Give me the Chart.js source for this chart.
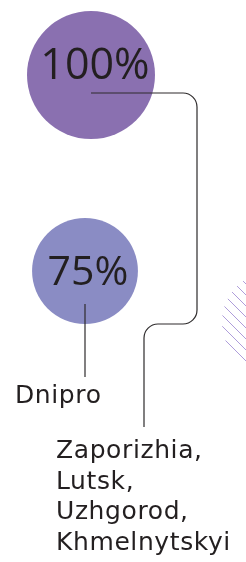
<!DOCTYPE html>
<html>
<head>
<meta charset="utf-8">
<script src="https://cdn.jsdelivr.net/npm/chart.js@4/dist/chart.umd.min.js"></script>
<style>
  html, body { margin: 0; padding: 0; background: #fff; }
  #chart { display: block; }
</style>
</head>
<body>
<canvas id="chart" width="246" height="562"></canvas>
<script>
'use strict';

// ---- data ----
const cities = ['Zaporizhia, Lutsk, Uzhgorod, Khmelnytskyi', 'Dnipro'];
const shares = [100, 75];
const shareLabels = ['100%', '75%'];

// ---- layout (chart units = pixels of a 246x562 board) ----
const bubbleX = [91, 85];
const bubbleY = [75, 271];
const bubbleColors = ['#8a70b0', '#8a8cc4'];
const INK = '#231f20';

function bubbleRadius(v) { return 64 * Math.pow(v / 100, 0.66); }

// connectors, drawn through the scales
const connectorPlugin = {
  id: 'connectors',
  beforeDatasetsDraw(chart) {
    const { ctx, scales: { x, y } } = chart;
    // hatched decoration at the right edge
    ctx.save();
    const cx = x.getPixelForValue(272), cy = y.getPixelForValue(322), r = 50;
    ctx.beginPath(); ctx.arc(cx, cy, r, 0, Math.PI * 2); ctx.clip();
    ctx.strokeStyle = '#a592d6'; ctx.lineWidth = 0.9;
    for (let k = -120; k < 120; k += 11) {
      ctx.beginPath();
      ctx.moveTo(cx + k - 80, cy - 80);
      ctx.lineTo(cx + k + 80, cy + 80);
      ctx.stroke();
    }
    ctx.restore();
  },
  afterDatasetsDraw(chart) {
    const { ctx, scales: { x, y } } = chart;
    const px = v => x.getPixelForValue(v), py = v => y.getPixelForValue(v);
    const rad = 14;
    ctx.save();
    ctx.lineWidth = 1.2;
    ctx.strokeStyle = '#2e2b2c';

    // 100% -> bottom list
    ctx.beginPath();
    ctx.moveTo(px(bubbleX[0]), py(93));
    ctx.arcTo(px(197), py(93), px(197), py(200), rad);
    ctx.arcTo(px(197), py(324), px(144), py(324), rad);
    ctx.arcTo(px(144), py(324), px(144), py(427), rad);
    ctx.lineTo(px(144), py(427));
    ctx.stroke();

    // 75% -> Dnipro
    ctx.beginPath();
    ctx.moveTo(px(bubbleX[1]), py(304));
    ctx.lineTo(px(bubbleX[1]), py(377));
    ctx.stroke();

    // value labels inside circles
    ctx.fillStyle = INK;
    ctx.textAlign = 'center';
    ctx.textBaseline = 'alphabetic';
    ctx.font = '43px "Open Sans", sans-serif';
    ctx.fillText(shareLabels[0], px(95), py(79));
    ctx.font = '41px "Open Sans", sans-serif';
    ctx.fillText(shareLabels[1], px(88), py(285));

    // city labels
    ctx.textAlign = 'left';
    ctx.font = '25px "DejaVu Sans", sans-serif';
    ctx.letterSpacing = '0.6px';
    ctx.fillText(cities[1], px(15), py(403));
    const parts = cities[0].split(' ');
    parts.forEach((t, i) => ctx.fillText(t, px(56), py(458 + i * 30.7)));
    ctx.restore();
  }
};

new Chart(document.getElementById('chart'), {
  type: 'bubble',
  data: {
    datasets: [{
      data: shares.map((v, i) => ({ x: bubbleX[i], y: bubbleY[i], r: bubbleRadius(v), v })),
      backgroundColor: bubbleColors,
      borderWidth: 0,
      hoverBorderWidth: 0,
      clip: false
    }]
  },
  options: {
    responsive: false,
    animation: false,
    devicePixelRatio: 1,
    layout: { padding: 0, autoPadding: false },
    plugins: { legend: { display: false }, tooltip: { enabled: false } },
    scales: {
      x: { type: 'linear', min: 0, max: 246, display: false },
      y: { type: 'linear', min: 0, max: 562, reverse: true, display: false }
    }
  },
  plugins: [connectorPlugin]
});
</script>
</body>
</html>
